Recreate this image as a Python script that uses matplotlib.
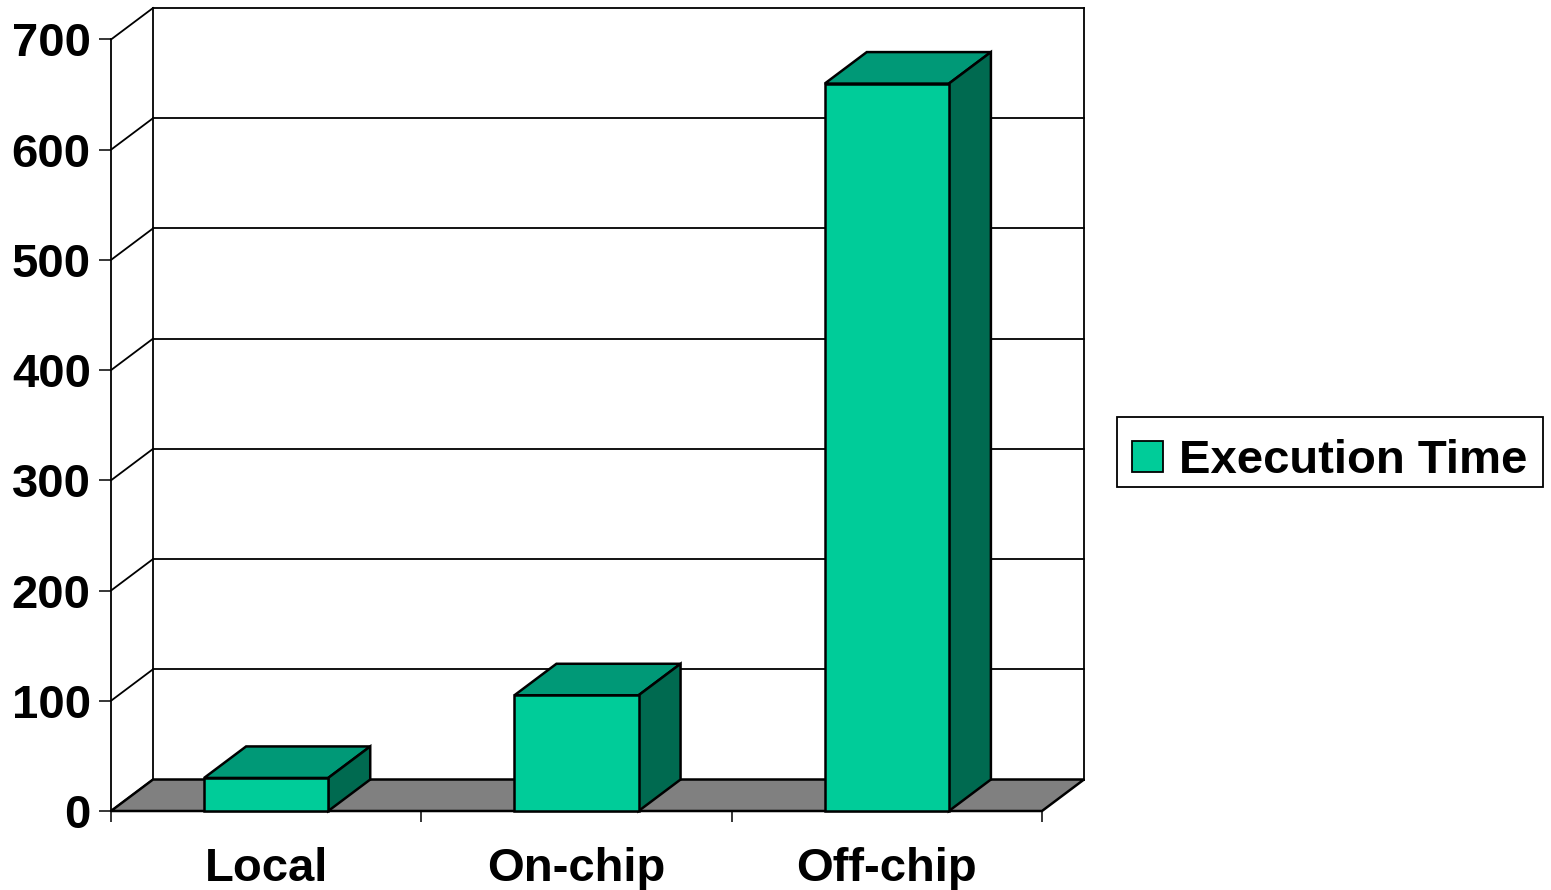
import matplotlib
matplotlib.use("Agg")
import matplotlib.pyplot as plt
from matplotlib.patches import Polygon, Rectangle, Patch

categories = ["Local", "On-chip", "Off-chip"]
values = [30, 105, 660]
yticks = [0, 100, 200, 300, 400, 500, 600, 700]
series_name = "Execution Time"

FRONT = "#00CC99"
TOP = "#009977"
SIDE = "#006A50"
FLOOR = "#808080"

plt.rcParams['font.family'] = ['Liberation Sans', 'DejaVu Sans']
plt.rcParams['font.weight'] = 'bold'
FS = 34

W, H = 1551, 890
fig = plt.figure(figsize=(W / 100, H / 100), dpi=100)
x0, x1 = 111, 1042
y0, y1 = 811, 39.5
ax = fig.add_axes([x0 / W, (H - y0) / H, (x1 - x0) / W, (y0 - y1) / H])
n = len(categories)
ymax = yticks[-1]
ax.set_xlim(0, n)
ax.set_ylim(0, ymax)

px_x = (x1 - x0) / n
px_y = (y0 - y1) / ymax
DX = 42 / px_x
DY = 31.5 / px_y

lw_out = 1.8
lw_grid = 1.3

# back wall gridlines and left wall diagonals
for v in yticks:
    ax.plot([DX, n + DX], [v + DY, v + DY], color="black", lw=lw_grid, clip_on=False, zorder=1)
    ax.plot([0, DX], [v, v + DY], color="black", lw=lw_grid, clip_on=False, zorder=1)
ax.plot([DX, DX], [DY, ymax + DY], color="black", lw=lw_grid, clip_on=False, zorder=1)
ax.plot([n + DX, n + DX], [DY, ymax + DY], color="black", lw=lw_grid, clip_on=False, zorder=1)

# floor
ax.add_patch(Polygon([(0, 0), (n, 0), (n + DX, DY), (DX, DY)], closed=True,
                     facecolor=FLOOR, edgecolor="black", lw=lw_out, clip_on=False, zorder=2))

bw = 0.4
for i, v in enumerate(values):
    c = i + 0.5
    l, r = c - bw / 2, c + bw / 2
    ax.add_patch(Polygon([(l, v), (r, v), (r + DX, v + DY), (l + DX, v + DY)], closed=True,
                         facecolor=TOP, edgecolor="black", lw=lw_out, clip_on=False, zorder=3))
    ax.add_patch(Polygon([(r, 0), (r + DX, DY), (r + DX, v + DY), (r, v)], closed=True,
                         facecolor=SIDE, edgecolor="black", lw=lw_out, clip_on=False, zorder=3))
    ax.add_patch(Rectangle((l, 0), bw, v, facecolor=FRONT, edgecolor="black",
                           lw=lw_out, clip_on=False, zorder=4))

for s in ["top", "right", "bottom"]:
    ax.spines[s].set_visible(False)
ax.spines["left"].set_linewidth(lw_grid)
ax.patch.set_visible(False)

ax.set_yticks(yticks)
ax.set_yticklabels([str(v) for v in yticks], fontsize=FS, fontweight="bold")
ax.tick_params(axis="y", direction="out", length=8.5, width=1.1, pad=6)

ax.set_xticks(range(n + 1))
ax.set_xticklabels([""] * (n + 1))
ax.tick_params(axis="x", which="major", direction="out", length=8, width=1.1)
ax.set_xticks([i + 0.5 for i in range(n)], minor=True)
ax.set_xticklabels(categories, minor=True, fontsize=FS, fontweight="bold")
ax.tick_params(axis="x", which="minor", length=0, pad=26)

# legend frame (drawn separately for exact placement)
fig.patches.append(Rectangle((1117 / W, 1 - 487 / H), (1543 - 1117) / W, 70 / H,
                             transform=fig.transFigure, facecolor="white",
                             edgecolor="black", lw=1.3, zorder=5))
leg = fig.legend(handles=[Patch(facecolor=FRONT, edgecolor="black", lw=1.3, label=series_name)],
                 loc="center left", bbox_to_anchor=(1132 / W, 1 - 461 / H),
                 prop={"size": FS, "weight": "bold"}, frameon=False,
                 handlelength=0.65, handleheight=0.65,
                 handletextpad=0.35, borderpad=0, borderaxespad=0)
leg.set_zorder(6)

fig.savefig("out.png", dpi=100)
